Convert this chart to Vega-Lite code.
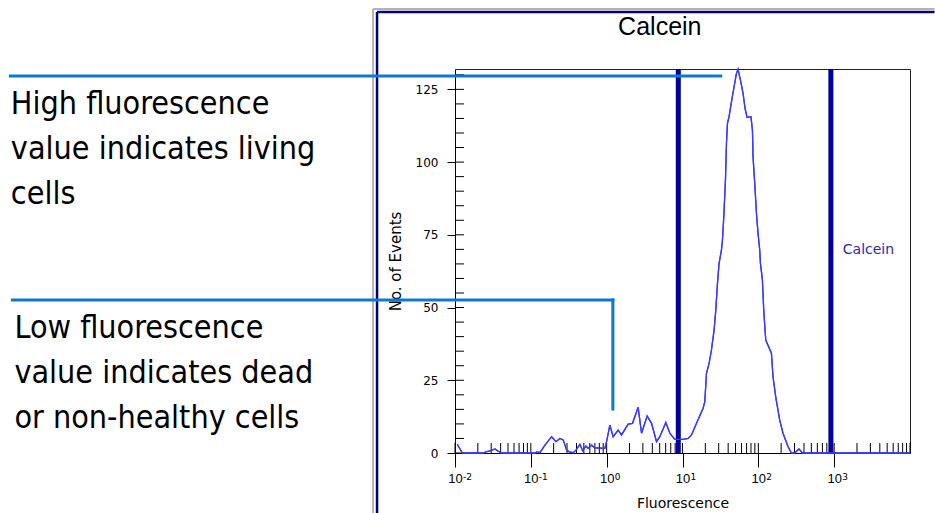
{
  "$schema": "https://vega.github.io/schema/vega-lite/v6.json",
  "autosize": {"type": "none"},
  "padding": {"left": 455, "top": 69, "right": 25, "bottom": 60},
  "width": 455,
  "height": 384,
  "background": "#ffffff",
  "config": {
    "view": {"stroke": "#222222", "strokeWidth": 1},
    "axis": {"grid": false, "domainColor": "#000000", "tickColor": "#000000", "labelColor": "#000000", "titleColor": "#000000", "labelFont": "DejaVu Sans", "titleFont": "DejaVu Sans", "titleFontWeight": "normal"}
  },
  "datasets": {
    "curve": [
      {"fluorescence": 0.0107, "events": 3.0},
      {"fluorescence": 0.0125, "events": 0},
      {"fluorescence": 0.0234, "events": 0},
      {"fluorescence": 0.0256, "events": 0.4},
      {"fluorescence": 0.0289, "events": 0.7},
      {"fluorescence": 0.0337, "events": 1.4},
      {"fluorescence": 0.0368, "events": 0.7},
      {"fluorescence": 0.0412, "events": 0},
      {"fluorescence": 0.1133, "events": 0},
      {"fluorescence": 0.1202, "events": 0.4},
      {"fluorescence": 0.1318, "events": 0.1},
      {"fluorescence": 0.1535, "events": 2.7},
      {"fluorescence": 0.188, "events": 5.6},
      {"fluorescence": 0.2144, "events": 3.9},
      {"fluorescence": 0.2415, "events": 5.0},
      {"fluorescence": 0.2673, "events": 4.5},
      {"fluorescence": 0.2965, "events": 1.0},
      {"fluorescence": 0.3206, "events": 0.4},
      {"fluorescence": 0.3624, "events": 0.1},
      {"fluorescence": 0.3926, "events": 1.0},
      {"fluorescence": 0.4436, "events": 3.0},
      {"fluorescence": 0.4814, "events": 0.8},
      {"fluorescence": 0.5321, "events": 2.4},
      {"fluorescence": 0.5702, "events": 1.6},
      {"fluorescence": 0.6324, "events": 2.7},
      {"fluorescence": 0.6991, "events": 1.8},
      {"fluorescence": 0.9462, "events": 1.6},
      {"fluorescence": 0.997, "events": 3.9},
      {"fluorescence": 1.102, "events": 9.6},
      {"fluorescence": 1.218, "events": 5.6},
      {"fluorescence": 1.417, "events": 7.9},
      {"fluorescence": 1.57, "events": 6.2},
      {"fluorescence": 1.919, "events": 9.9},
      {"fluorescence": 2.193, "events": 10.2},
      {"fluorescence": 2.6, "events": 15.7},
      {"fluorescence": 2.884, "events": 6.8},
      {"fluorescence": 3.417, "events": 12.7},
      {"fluorescence": 3.905, "events": 10.2},
      {"fluorescence": 4.544, "events": 3.9},
      {"fluorescence": 5.023, "events": 5.6},
      {"fluorescence": 6.026, "events": 10.5},
      {"fluorescence": 6.803, "events": 6.8},
      {"fluorescence": 7.917, "events": 4.7},
      {"fluorescence": 10.18, "events": 4.7},
      {"fluorescence": 11.85, "events": 5.0},
      {"fluorescence": 13.14, "events": 6.2},
      {"fluorescence": 15.3, "events": 10.2},
      {"fluorescence": 18.68, "events": 15.4},
      {"fluorescence": 19.67, "events": 17.6},
      {"fluorescence": 20.71, "events": 27.4},
      {"fluorescence": 22.41, "events": 30.8},
      {"fluorescence": 24.1, "events": 35.4},
      {"fluorescence": 26.09, "events": 42.3},
      {"fluorescence": 27.47, "events": 49.1},
      {"fluorescence": 28.92, "events": 58.3},
      {"fluorescence": 30.36, "events": 65.2},
      {"fluorescence": 32.65, "events": 69.8},
      {"fluorescence": 33.65, "events": 73.2},
      {"fluorescence": 35.01, "events": 81.2},
      {"fluorescence": 36.86, "events": 93.8},
      {"fluorescence": 37.99, "events": 106.4},
      {"fluorescence": 39.16, "events": 113.3},
      {"fluorescence": 41.11, "events": 115.6},
      {"fluorescence": 44.22, "events": 120.7},
      {"fluorescence": 47.4, "events": 125.3},
      {"fluorescence": 51.46, "events": 130.5},
      {"fluorescence": 54.01, "events": 131.9},
      {"fluorescence": 58.1, "events": 128.2},
      {"fluorescence": 62.86, "events": 123.6},
      {"fluorescence": 66.81, "events": 118.5},
      {"fluorescence": 70.98, "events": 115.4},
      {"fluorescence": 79.9, "events": 115.6},
      {"fluorescence": 83.62, "events": 111.0},
      {"fluorescence": 85.15, "events": 101.8},
      {"fluorescence": 89.65, "events": 92.7},
      {"fluorescence": 94.41, "events": 82.4},
      {"fluorescence": 99.08, "events": 75.5},
      {"fluorescence": 104.3, "events": 69.8},
      {"fluorescence": 106.6, "events": 65.2},
      {"fluorescence": 113.2, "events": 59.5},
      {"fluorescence": 117.8, "events": 49.1},
      {"fluorescence": 125.2, "events": 38.8},
      {"fluorescence": 148.8, "events": 34.3},
      {"fluorescence": 156.2, "events": 26.2},
      {"fluorescence": 169.5, "events": 19.3},
      {"fluorescence": 191.4, "events": 11.3},
      {"fluorescence": 211.5, "events": 6.8},
      {"fluorescence": 246.1, "events": 2.2},
      {"fluorescence": 272.9, "events": 0},
      {"fluorescence": 301.7, "events": 0},
      {"fluorescence": 343.8, "events": 1.4},
      {"fluorescence": 381.1, "events": 0},
      {"fluorescence": 10000, "events": 0}
    ],
    "xticks": [
      {"value": 0.01}, {"value": 0.02}, {"value": 0.03}, {"value": 0.04}, {"value": 0.05}, {"value": 0.06}, {"value": 0.07}, {"value": 0.08}, {"value": 0.09},
      {"value": 0.1}, {"value": 0.2}, {"value": 0.3}, {"value": 0.4}, {"value": 0.5}, {"value": 0.6}, {"value": 0.7}, {"value": 0.8}, {"value": 0.9},
      {"value": 1}, {"value": 2}, {"value": 3}, {"value": 4}, {"value": 5}, {"value": 6}, {"value": 7}, {"value": 8}, {"value": 9},
      {"value": 10}, {"value": 20}, {"value": 30}, {"value": 40}, {"value": 50}, {"value": 60}, {"value": 70}, {"value": 80}, {"value": 90},
      {"value": 100}, {"value": 200}, {"value": 300}, {"value": 400}, {"value": 500}, {"value": 600}, {"value": 700}, {"value": 800}, {"value": 900},
      {"value": 1000}, {"value": 2000}, {"value": 3000}, {"value": 4000}, {"value": 5000}, {"value": 6000}, {"value": 7000}, {"value": 8000}, {"value": 9000},
      {"value": 10000}
    ],
    "yticks": [
      {"value": 0}, {"value": 5}, {"value": 10}, {"value": 15}, {"value": 20}, {"value": 25}, {"value": 30}, {"value": 35}, {"value": 40},
      {"value": 45}, {"value": 50}, {"value": 55}, {"value": 60}, {"value": 65}, {"value": 70}, {"value": 75}, {"value": 80}, {"value": 85},
      {"value": 90}, {"value": 95}, {"value": 100}, {"value": 105}, {"value": 110}, {"value": 115}, {"value": 120}, {"value": 125}, {"value": 130}
    ],
    "exponents": [
      {"value": 0.01, "exponent": "-2"},
      {"value": 0.1, "exponent": "-1"},
      {"value": 1, "exponent": "0"},
      {"value": 10, "exponent": "1"},
      {"value": 100, "exponent": "2"},
      {"value": 1000, "exponent": "3"}
    ],
    "gates": [
      {"gate": 8.8},
      {"gate": 905}
    ],
    "frameGray": [
      {"x": 0.000831, "x2": 0.000831, "y": 152.6, "y2": -22},
      {"x": 0.000831, "x2": 21100, "y": 152.6, "y2": 152.6}
    ],
    "frameNavy": [
      {"x": 0.000938, "x2": 0.000938, "y": 151.6, "y2": -22},
      {"x": 0.000938, "x2": 21100, "y": 151.6, "y2": 151.6}
    ],
    "callouts": [
      {"x": 1.371e-8, "x2": 31.96, "y": 129.6, "y2": 129.6},
      {"x": 1.456e-8, "x2": 1.207, "y": 52.6, "y2": 52.6},
      {"x": 1.207, "x2": 1.207, "y": 52.6, "y2": 15.1}
    ],
    "notes": [
      {"label": "High fluorescence\nvalue indicates living\ncells", "x": 1.39e-8, "y": 116.7},
      {"label": "Low fluorescence\nvalue indicates dead\nor non-healthy cells", "x": 1.549e-8, "y": 39.4}
    ],
    "heading": [
      {"label": "Calcein", "x": 5.02, "y": 143.7}
    ],
    "gateLabel": [
      {"label": "Calcein", "x": 1300, "y": 69.8}
    ]
  },
  "layer": [
    {
      "data": {"name": "curve"},
      "mark": {"type": "line", "color": "#3a3aff", "strokeWidth": 1.3},
      "encoding": {
        "x": {
          "field": "fluorescence", "type": "quantitative",
          "scale": {"type": "log", "domain": [0.01, 10000], "nice": false},
          "axis": {
            "title": "Fluorescence", "titleFontSize": 14, "titlePadding": 11,
            "values": [0.01, 0.1, 1, 10, 100, 1000],
            "tickSize": 14, "labelPadding": 5, "labelFontSize": 13, "labelFont": "Liberation Sans", "labelAlign": "center",
            "labelExpr": "'10'"
          }
        },
        "y": {
          "field": "events", "type": "quantitative",
          "scale": {"domain": [0, 132], "nice": false, "zero": true},
          "axis": {
            "title": "No. of Events", "titleFontSize": 15, "titlePadding": 12,
            "values": [0, 25, 50, 75, 100, 125],
            "tickSize": 8, "labelPadding": 9, "labelFontSize": 12
          }
        }
      }
    },
    {
      "data": {"name": "frameGray"},
      "mark": {"type": "rule", "color": "#b4b4b4", "strokeWidth": 2, "clip": false},
      "encoding": {
        "x": {"field": "x", "type": "quantitative"},
        "x2": {"field": "x2"},
        "y": {"field": "y", "type": "quantitative"},
        "y2": {"field": "y2"}
      }
    },
    {
      "data": {"name": "frameNavy"},
      "mark": {"type": "rule", "color": "#000080", "strokeWidth": 2.5, "clip": false},
      "encoding": {
        "x": {"field": "x", "type": "quantitative"},
        "x2": {"field": "x2"},
        "y": {"field": "y", "type": "quantitative"},
        "y2": {"field": "y2"}
      }
    },
    {
      "data": {"name": "xticks"},
      "mark": {"type": "rule", "color": "#000000", "strokeWidth": 1},
      "encoding": {
        "x": {"field": "value", "type": "quantitative"},
        "y": {"datum": 0, "type": "quantitative"},
        "y2": {"datum": 3.44}
      }
    },
    {
      "data": {"name": "yticks"},
      "mark": {"type": "rule", "color": "#000000", "strokeWidth": 1},
      "encoding": {
        "y": {"field": "value", "type": "quantitative"},
        "x": {"datum": 0.01, "type": "quantitative"},
        "x2": {"datum": 0.01314}
      }
    },
    {
      "data": {"name": "exponents"},
      "mark": {"type": "text", "align": "left", "baseline": "top", "dx": 8, "fontSize": 9, "font": "DejaVu Sans", "color": "#000000", "clip": false},
      "encoding": {
        "x": {"field": "value", "type": "quantitative"},
        "y": {"datum": -6.9, "type": "quantitative"},
        "text": {"field": "exponent"}
      }
    },
    {
      "data": {"name": "gates"},
      "mark": {"type": "rule", "color": "#00009c", "strokeWidth": 5},
      "encoding": {
        "x": {"field": "gate", "type": "quantitative"}
      }
    },
    {
      "data": {"name": "curve"},
      "mark": {"type": "line", "color": "#3a3aff", "strokeWidth": 1.3},
      "encoding": {
        "x": {"field": "fluorescence", "type": "quantitative"},
        "y": {"field": "events", "type": "quantitative"}
      }
    },
    {
      "data": {"name": "callouts"},
      "mark": {"type": "rule", "color": "#0a7acc", "strokeWidth": 3, "clip": false, "strokeCap": "square"},
      "encoding": {
        "x": {"field": "x", "type": "quantitative"},
        "x2": {"field": "x2"},
        "y": {"field": "y", "type": "quantitative"},
        "y2": {"field": "y2"}
      }
    },
    {
      "data": {"name": "notes"},
      "mark": {"type": "text", "align": "left", "baseline": "alphabetic", "lineBreak": "\n", "lineHeight": 45, "fontSize": 32, "font": "DejaVu Sans Condensed, Roboto", "color": "#000000", "clip": false},
      "encoding": {
        "x": {"field": "x", "type": "quantitative"},
        "y": {"field": "y", "type": "quantitative"},
        "text": {"field": "label"}
      }
    },
    {
      "data": {"name": "heading"},
      "mark": {"type": "text", "align": "center", "baseline": "alphabetic", "fontSize": 25, "font": "Liberation Sans", "color": "#000000", "clip": false},
      "encoding": {
        "x": {"field": "x", "type": "quantitative"},
        "y": {"field": "y", "type": "quantitative"},
        "text": {"field": "label"}
      }
    },
    {
      "data": {"name": "gateLabel"},
      "mark": {"type": "text", "align": "left", "baseline": "middle", "fontSize": 14, "font": "DejaVu Sans", "color": "#2a2ab0", "clip": false},
      "encoding": {
        "x": {"field": "x", "type": "quantitative"},
        "y": {"field": "y", "type": "quantitative"},
        "text": {"field": "label"}
      }
    }
  ]
}
